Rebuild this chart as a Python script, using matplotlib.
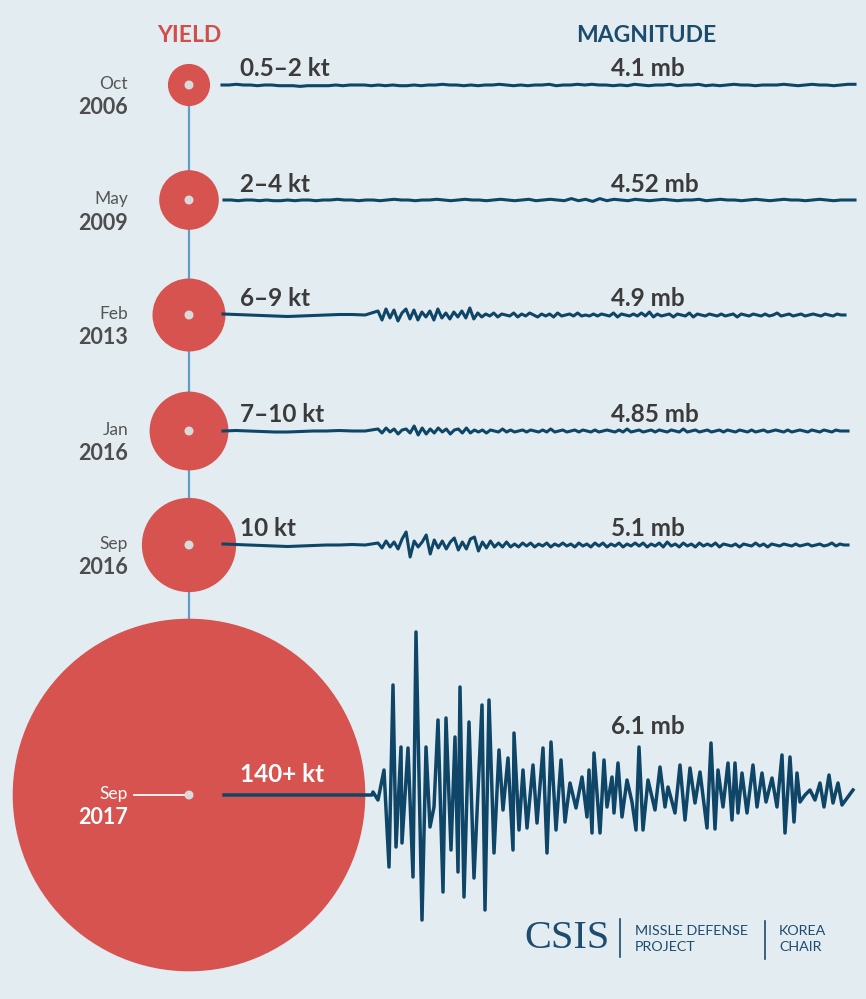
import numpy as np
import matplotlib.pyplot as plt
from matplotlib.patches import Circle

plt.rcParams['font.family'] = ['Lato', 'DejaVu Sans']

# --- data ---
months = ['Oct', 'May', 'Feb', 'Jan', 'Sep', 'Sep']
years = ['2006', '2009', '2013', '2016', '2016', '2017']
yield_labels = ['0.5–2 kt', '2–4 kt', '6–9 kt', '7–10 kt', '10 kt', '140+ kt']
yield_kt = [2, 4, 6, 7, 10, 140]          # bubble area follows this value
magnitudes = ['4.1 mb', '4.52 mb', '4.9 mb', '4.85 mb', '5.1 mb', '6.1 mb']

# seismograph traces (amplitude in px, + is up)
wave_2006 = [0, 0, 1, 0, 0, -1, 0, 0, -1, -1, -1, -2, -1, -1, -1, -1, 0, -1, 0, 0,
             0, -1, 0, -1, 0, -1, -1, 0, -1, 0, 0, 1, 0, 0, -1, 0, -1, 0, 0, 1,
             0, -1, 0, -1, 0, 0, 1, -1, 0, 0, 1, 0, 1, 0, 0, -1, 0, -1, 1, 0,
             -1, 0, 0, 1, -1, 0, 0, 1, -1, 0, -1, 0, 1, 0, 0, -1, 0, 0, 0, 1,
             0, -1, 0, 1, 0, 0, -1, 0, 1, 1]
wave_2009 = [0, 0, -1, 0, 0, -1, 0, -1, -1, 0, -1, 0, 0, -1, 0, 0, 1, 0, 0, -1,
             0, 0, -1, 0, 1, 0, 0, -1, 0, 0, 1, 0, -1, 0, 1, 0, 0, -1, 0, 1,
             0, -1, 0, 1, -1, 0, 1, 0, -1, 2, -1, 1, -2, 2, -1, 1, 0, -1, 1, 0,
             -1, 0, 1, 0, -1, 0, 0, 1, -1, 0, 1, 0, 0, -1, 0, 1, 0, -1, 0, 1,
             0, 0, -1, 0, 1, 0, -1, 0, 0, 0]

head_2013 = [1, 0.5, 0, -0.5, -1, -1.5, -1, -0.5, 0, 0.5, 0.5, 0]
body_2013 = [4, -5, 6, -3, 5, -6, 2, 6, -4, 5, -5, 3, -2, 4, -5, 6, -3, 2, -4, 3,
             -2, 4, -3, 7, -4, 2,
             -2, 1, -1, 2, -2, 1, 0, -1, 2, -2, 1, -1, 2, 0, -2, 1, -1, 1, -2, 2,
             -1, 0, 1, -1, 2, -1, 0, -1, 1, -1, 1, 0, -1, 2, -2, 1, 0, -1, 1, -1,
             2, -1, 3, -2, 1, -1, 0, 1, -2, 1, 0, -1, 2, -2, 1, 0, -1, 1, 0, -1,
             1, -1, 0, 1, -2, 1, 0, -1, 1, 0, -1, 1, -1, 0, 2, -1, 0, 1, -1, 0,
             1, -1, 0, 1, 0, -1, 1, 0, -1, 1, 0, 0]

head_2016a = [0, 0.5, 0, -0.5, -1, -1, -0.5, 0, 0, 0.5, 0, 0]
body_2016a = [2, -2, 3, -1, 2, -3, 1, 2, -2, 5, -4, 3, -3, 2, -2, 3, -1, 2, -3, 1,
              2, -2, 3, -2, 1,
              -1, 1, -2, 1, 0, -1, 2, -1, 1, -1, 0, 1, -1, 1, 0, -1, 1, -1, 2, -1,
              0, 1, -1, 0, 1, -1, 1, 0, -1, 1, -1, 0, 1, 0, -1, 1, -1, 2, -1, 0,
              1, -1, 0, 1, -1, 1, 0, -1, 1, 0, -1, 2, -1, 0, 1, -1, 0, 1, -1, 0,
              1, -1, 1, 0, -1, 1, 0, -1, 1, -1, 0, 1, -1, 0, 1, 0, -1, 1, -1, 0,
              1, 0, -1, 1, 0, -1, 1, 0, -1, 1, 0, 0, 0]

head_2016b = [1, 0.5, 0, -0.5, -1, -1.5, -1, -0.5, 0, 0, 0.5, 0]
body_2016b = [2, -3, 4, -2, 3, -4, 6, 13, -12, 4, -2, 3, 10, -9, 5, -3, 4, -4, 3, 7,
              -5, 3, -4, 6, 8, -6, 3, -3, 4, -2,
              2, -2, 3, -2, 1, -2, 2, -1, 2, -2, 1, -1, 2, -2, 1, -1, 2, -1, 1, -2,
              2, -1, 1, -2, 2, -1, 2, -2, 1, -1, 2, -2, 1, -1, 2, -1, 2, -2, 1, -1,
              2, -2, 3, -1, 1, -2, 2, -1, 1, -2, 2, -1, 1, -1, 2, -2, 1, 0, -1, 1,
              -2, 1, 0, -1, 2, -1, 1, -2, 1, 0, -1, 1, 0, -1, 1, -1, 0, 1, -1, 0,
              1, -1, 0, 2, -1, 1, 0, 0]

t_2017 = [224, 372, 373, 378, 384, 389, 393, 396, 401, 402,
          408, 413, 416, 422, 426, 430, 434, 438, 443, 446,
          451, 455, 458, 460, 464, 469, 474, 482, 485, 489,
          494, 499, 503, 508, 513, 514, 519, 523, 527, 533,
          537, 543, 547, 551, 556, 561, 565, 570, 576, 582,
          587, 589, 592, 594, 600, 604, 607, 612, 614, 618,
          622, 627, 632, 636, 639, 643, 648, 655, 660, 665,
          668, 675, 680, 685, 690, 695, 700, 707, 711, 715,
          718, 723, 728, 732, 735, 738, 742, 747, 753, 757,
          762, 766, 772, 777, 782, 785, 790, 794, 797, 800,
          805, 810, 815, 820, 824, 829, 833, 838, 842, 853]
a_2017 = [0, 0, 3, -5, 25, -72, 110, -52, 48, -48,
          47, -82, 163, -125, 48, -32, -12, 75, -97, 77,
          -55, 58, -77, 108, -102, 73, -83, 90, -115, 95,
          -58, 45, -15, 37, -55, 62, -35, 25, -33, 30,
          -28, 47, -58, 53, -35, 35, -27, 12, -13, 18,
          -22, 25, -38, 42, -38, 35, -12, 18, -18, 32,
          -22, 15, -7, -35, 48, -35, 15, -15, 28, -12,
          8, -18, 30, -25, 27, -8, 23, -33, 52, -34,
          25, -12, 32, -25, 32, -18, 22, -18, 30, -12,
          22, -7, 17, -12, 40, -38, 38, -27, 22, -7,
          0, 5, -5, 12, -12, 20, -8, 12, -10, 5]

# --- layout ---
bg = '#e3ecf1'
red = '#d6534f'
navy = '#0f4667'
txt = '#3b3b3b'
gray = '#555555'

row_y = [85, 200, 315, 431, 545, 795]
cx = 189
r_scale = 14.9          # px per sqrt(kt)
trace_x0, burst_x0 = 223, 378
trace_end = [855, 855, 845, 848, 848, 853]
gain = [0.7, 0.7, 1, 1, 1]

fig = plt.figure(figsize=(8.66, 9.99), dpi=100)
fig.patch.set_facecolor(bg)
ax = fig.add_axes([0, 0, 1, 1])
ax.set_facecolor(bg)
ax.set_xlim(0, 866)
ax.set_ylim(999, 0)
ax.axis('off')

# timeline spine
ax.plot([cx, cx], [row_y[0], row_y[-1]], color='#5f9cc6', lw=1.6, zorder=1)

for i, y in enumerate(row_y):
    r = r_scale * np.sqrt(yield_kt[i])
    ax.add_patch(Circle((cx, y), r, color=red, zorder=2, lw=0))
    ax.add_patch(Circle((cx, y), 4.5, color='#d9d9d9', zorder=6, lw=0))

# small traces
small = [(wave_2006, None), (wave_2009, None), (head_2013, body_2013),
         (head_2016a, body_2016a), (head_2016b, body_2016b)]
for i, (head, body) in enumerate(small):
    y = row_y[i]
    if body is None:
        xs = np.linspace(trace_x0 - 1 + i * 2, trace_end[i], len(head))
        amps = np.array(head, dtype=float)
    else:
        xs = np.concatenate([np.linspace(trace_x0, burst_x0, len(head), endpoint=False),
                             np.linspace(burst_x0, trace_end[i], len(body))])
        amps = np.array(head + body, dtype=float)
    ax.plot(xs, y - gain[i] * amps, color=navy, lw=2.2, solid_joinstyle='round', zorder=4)

# big trace
ax.plot(t_2017, row_y[-1] - np.array(a_2017), color=navy, lw=2.5,
        solid_joinstyle='round', zorder=4)

# labels
for i, y in enumerate(row_y):
    last = i == len(row_y) - 1
    c_month = 'white' if last else gray
    c_year = 'white' if last else '#4d4d4d'
    ax.text(128, y - 1, months[i], ha='right', va='center', fontsize=12.5,
            color=c_month, zorder=7)
    ax.text(128, y + 23, years[i], ha='right', va='center', fontsize=15.5,
            fontweight='bold', color=c_year, zorder=7)
    ax.text(240, y - (20 if last else 16), yield_labels[i], ha='left', va='center',
            fontsize=17.5, fontweight='bold', color='white' if last else txt, zorder=7)
    ax.text(611, (727 if last else y - 16), magnitudes[i], ha='left', va='center',
            fontsize=17.5, fontweight='bold', color=txt, zorder=7)

ax.plot([134, cx - 4], [row_y[-1], row_y[-1]], color='white', lw=1.3, zorder=5)

ax.text(cx, 35, 'YIELD', ha='center', va='center', fontsize=16.5,
        fontweight='bold', color='#d14e4b')
ax.text(646, 35, 'MAGNITUDE', ha='center', va='center', fontsize=16.5,
        fontweight='bold', color='#1c4b6c')

# CSIS logo
logo = '#1d4c6e'
ax.text(524, 938, 'CSIS', ha='left', va='center', fontsize=29,
        family='Liberation Serif', color=logo)
ax.plot([620, 620], [919, 957], color=logo, lw=1.2)
ax.plot([765, 765], [921, 959], color=logo, lw=1.2)
ax.text(635, 931, 'MISSLE DEFENSE', ha='left', va='center', fontsize=10.3, color=logo)
ax.text(635, 947, 'PROJECT', ha='left', va='center', fontsize=10.3, color=logo)
ax.text(779, 931, 'KOREA', ha='left', va='center', fontsize=10.3, color=logo)
ax.text(779, 947, 'CHAIR', ha='left', va='center', fontsize=10.3, color=logo)

fig.savefig('out.png', dpi=100, facecolor=bg)
